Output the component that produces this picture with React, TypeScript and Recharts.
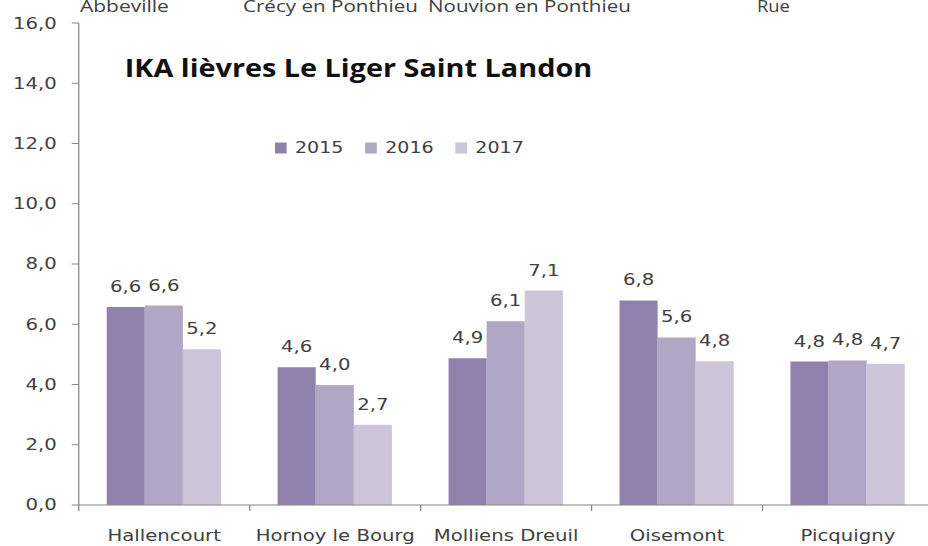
import React from 'react';
import { BarChart, Bar, XAxis, YAxis, LabelList, Customized } from 'recharts';

// ---- data ----
const categories = ['Hallencourt', 'Hornoy le Bourg', 'Molliens Dreuil', 'Oisemont', 'Picquigny'];
const values2015 = [6.57, 4.57, 4.87, 6.79, 4.76];
const values2016 = [6.62, 3.98, 6.1, 5.56, 4.8];
const values2017 = [5.17, 2.66, 7.12, 4.77, 4.69];
const seriesNames = ['2015', '2016', '2017'];
const yTicks = [0, 2, 4, 6, 8, 10, 12, 14, 16];
const topLabels = ['Abbeville', 'Crécy en Ponthieu', 'Nouvion en Ponthieu', 'Rue'];
const titleText = 'IKA lièvres Le Liger Saint Landon';

// ---- styles / layout ----
const colors = ['#9080ac', '#b0a6c6', '#cdc6da'];
const keys = ['y2015', 'y2016', 'y2017'];
const SX = 1.27; // horizontal stretch of the reference picture
const CHART_W = 740;
const CHART_H = 546;
const MARGIN = { top: 23, right: 5, left: 7, bottom: 0 };
const Y_W = 55;
const X_H = 41;
const AXIS_COLOR = '#868686';
const TEXT_COLOR = '#404040';
const FONT = 'DejaVu Sans, Verdana, sans-serif';
const FS = 15.5;

const topLabelLayout = [
  { cx: 98, w: 70 },
  { cx: 260.2, w: 137.8 },
  { cx: 416.9, w: 159.8 },
  { cx: 609, w: 26 },
];
const legendLayout = { x0: 216.5, pitch: 71, sqW: 9.2, sqH: 11, textDx: 15.8, cy: 148 };

const data = categories.map((c, i) => ({
  category: c,
  y2015: values2015[i],
  y2016: values2016[i],
  y2017: values2017[i],
}));

const fmt = (v: any) => Number(v).toFixed(1).replace('.', ',');

const plotW = CHART_W - MARGIN.left - MARGIN.right - Y_W;
const halfBand = plotW / categories.length / 2;

const XTick = (props: any) => {
  const { x, y, payload, index } = props;
  const last = index === categories.length - 1;
  return (
    <g>
      <line x1={x - halfBand} x2={x - halfBand} y1={y} y2={y + 6} stroke={AXIS_COLOR} />
      {last && <line x1={x + halfBand} x2={x + halfBand} y1={y} y2={y + 6} stroke={AXIS_COLOR} />}
      <text x={x} y={y + 36} textAnchor="middle" fontFamily={FONT} fontSize={FS} fill={TEXT_COLOR}>
        {payload.value}
      </text>
    </g>
  );
};

const Decorations = () => (
  <g>
    {topLabels.map((t, i) => (
      <text
        key={t}
        x={topLabelLayout[i].cx}
        y={12}
        textAnchor="middle"
        fontFamily="Open Sans, sans-serif"
        fontSize={16}
        fill={TEXT_COLOR}
        textLength={topLabelLayout[i].w}
        lengthAdjust="spacingAndGlyphs"
      >
        {t}
      </text>
    ))}
    <text
      x={282.3}
      y={77}
      textAnchor="middle"
      fontFamily="Open Sans, sans-serif"
      fontWeight={700}
      fontSize={25}
      fill="#111"
      textLength={368}
      lengthAdjust="spacingAndGlyphs"
    >
      {titleText}
    </text>
    {seriesNames.map((n, i) => {
      const x = legendLayout.x0 + i * legendLayout.pitch;
      return (
        <g key={n}>
          <rect
            x={x}
            y={legendLayout.cy - legendLayout.sqH / 2}
            width={legendLayout.sqW}
            height={legendLayout.sqH}
            fill={colors[i]}
          />
          <text
            x={x + legendLayout.textDx}
            y={legendLayout.cy + 5.5}
            fontFamily={FONT}
            fontSize={15}
            fill={TEXT_COLOR}
          >
            {n}
          </text>
        </g>
      );
    })}
  </g>
);

export default function App() {
  return (
    <div
      style={{
        position: 'fixed',
        left: 0,
        top: 0,
        width: 928,
        height: 546,
        overflow: 'hidden',
        background: '#fff',
      }}
    >
      <div style={{ width: CHART_W, height: CHART_H, transform: `scaleX(${SX})`, transformOrigin: '0 0' }}>
        <BarChart
          width={CHART_W}
          height={CHART_H}
          data={data}
          margin={MARGIN}
          barGap={0}
          barCategoryGap={22}
        >
          <XAxis
            dataKey="category"
            height={X_H}
            tickSize={0}
            tickMargin={0}
            tickLine={false}
            axisLine={{ stroke: AXIS_COLOR }}
            tick={<XTick />}
            interval={0}
          />
          <YAxis
            domain={[0, 16]}
            ticks={yTicks}
            interval={0}
            width={Y_W}
            tickSize={5.5}
            tickMargin={11.8}
            tickFormatter={fmt}
            axisLine={{ stroke: AXIS_COLOR }}
            tickLine={{ stroke: AXIS_COLOR }}
            tick={{ fontFamily: FONT, fontSize: FS, fill: TEXT_COLOR }}
          />
          {keys.map((k, i) => (
            <Bar key={k} dataKey={k} name={seriesNames[i]} fill={colors[i]} isAnimationActive={false}>
              <LabelList
                dataKey={k}
                position="top"
                offset={15}
                formatter={fmt}
                fontFamily={FONT}
                fontSize={FS}
                fill={TEXT_COLOR}
              />
            </Bar>
          ))}
          <Customized component={Decorations} />
        </BarChart>
      </div>
    </div>
  );
}
